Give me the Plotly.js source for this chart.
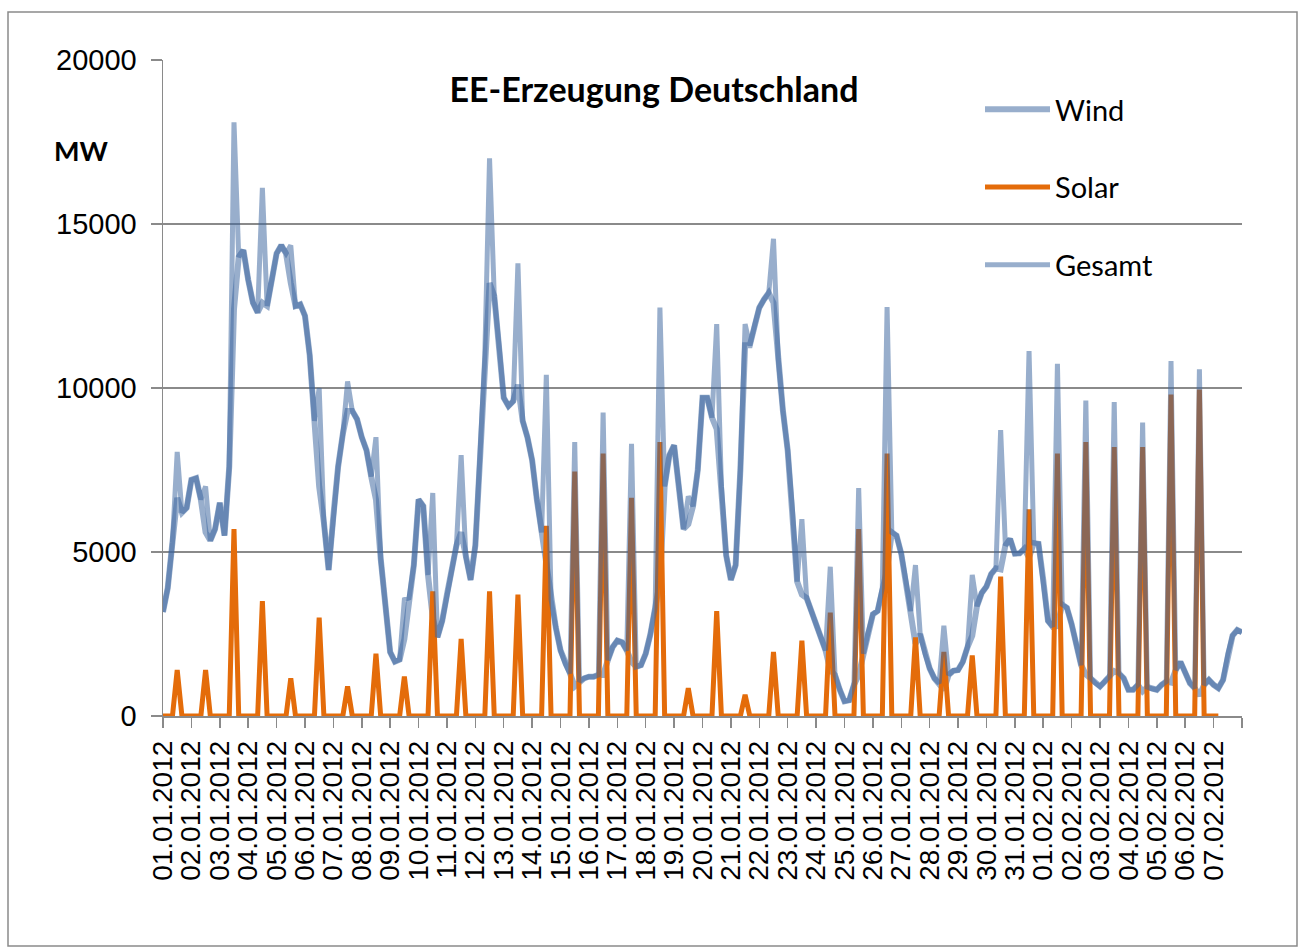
<!DOCTYPE html>
<html>
<head>
<meta charset="utf-8">
<script src="https://cdn.plot.ly/plotly-3.0.1.min.js"></script>
<style>
  html, body { margin: 0; padding: 0; background: #ffffff; }
  #chart { width: 1301px; height: 949px; }
</style>
</head>
<body>
<div id="chart"></div>
<script>
// Day labels (one tick per day, 01.01.2012 .. 07.02.2012)
const dayLabels = [
  "01.01.2012","02.01.2012","03.01.2012","04.01.2012","05.01.2012","06.01.2012","07.01.2012",
  "08.01.2012","09.01.2012","10.01.2012","11.01.2012","12.01.2012","13.01.2012","14.01.2012",
  "15.01.2012","16.01.2012","17.01.2012","18.01.2012","19.01.2012","20.01.2012","21.01.2012",
  "22.01.2012","23.01.2012","24.01.2012","25.01.2012","26.01.2012","27.01.2012","28.01.2012",
  "29.01.2012","30.01.2012","31.01.2012","01.02.2012","02.02.2012","03.02.2012","04.02.2012",
  "05.02.2012","06.02.2012","07.02.2012"
];

// Sampling step of the series (hours)
const stepHours = 4;

// Wind feed-in (MW), every 4 h starting 01.01.2012 00:00
const windMW = [
  3170, 3900, 5300, 6650, 6200, 6350,      // 01.01
  7200, 7250, 6600, 5600, 5350, 5700,      // 02.01
  6500, 5500, 7600, 12400, 14000, 14200,   // 03.01
  13300, 12600, 12300, 12600, 12500, 13300,// 04.01
  14100, 14350, 14100, 13200, 12500, 12550,// 05.01
  12200, 11000, 9000, 7000, 5900, 4450,    // 06.01
  6100, 7600, 8600, 9300, 9300, 9050,      // 07.01
  8500, 8100, 7300, 6600, 4800, 3200,      // 08.01
  1950, 1660, 1720, 2350, 3600, 4600,      // 09.01
  6600, 6400, 4300, 3000, 2400, 2900,      // 10.01
  3700, 4500, 5200, 5600, 4850, 4150,      // 11.01
  5200, 8000, 11000, 13200, 12800, 11300,  // 12.01
  9700, 9450, 9600, 10100, 9000, 8500,     // 13.01
  7800, 6600, 5600, 4600, 3550, 2700,      // 14.01
  2000, 1580, 1300, 900, 1050, 1150,       // 15.01
  1200, 1200, 1250, 1250, 1700, 2100,      // 16.01
  2300, 2250, 2000, 1650, 1500, 1550,      // 17.01
  1900, 2500, 3300, 4100, 7000, 7950,      // 18.01
  8250, 7000, 5700, 5850, 6400, 7500,      // 19.01
  9700, 9700, 9100, 8750, 7000, 4900,      // 20.01
  4150, 4600, 7500, 11300, 11300, 11900,   // 21.01
  12450, 12700, 12900, 12600, 10900, 9300, // 22.01
  8100, 6300, 4100, 3700, 3600, 3200,      // 23.01
  2800, 2450, 2000, 1400, 1250, 800,       // 24.01
  450, 480, 950, 1250, 1900, 2550,         // 25.01
  3100, 3200, 3900, 4470, 5600, 5500,      // 26.01
  4950, 4100, 3200, 2200, 2500, 1900,      // 27.01
  1450, 1150, 1000, 800, 1250, 1380,       // 28.01
  1400, 1650, 2100, 2450, 3350, 3750,      // 29.01
  3950, 4330, 4500, 4470, 5200, 5400,      // 30.01
  4950, 4960, 5100, 4830, 5270, 5250,      // 31.01
  4150, 2900, 2720, 2740, 3400, 3300,      // 01.02
  2800, 2100, 1550, 1270, 1150, 1000,      // 02.02
  900, 1050, 1200, 1370, 1300, 1150,       // 03.02
  800, 800, 950, 750, 880, 830,            // 04.02
  800, 950, 1050, 1020, 1400, 1650,        // 05.02
  1350, 1000, 850, 620, 950, 1100,         // 06.02
  950, 850, 1100, 1900, 2450, 2620,        // 07.02
  2550                                     // 08.02 00:00
];

// Solar feed-in daily midday peak (MW), 01.01 .. 06.02
const solarPeakMW = [
  1400, 1400, 5700, 3500, 1150, 3000, 900, 1900, 1200, 3800,
  2350, 3800, 3700, 5800, 7450, 8000, 6650, 8350, 850, 3200,
  650, 1950, 2300, 3150, 5700, 8000, 2400, 1950, 1850, 4250,
  6300, 8000, 8350, 8200, 8200, 9800, 9950
];

// ---- build series on the common time grid ----
const perDay = 24 / stepHours;
const t = windMW.map((_, i) => i * stepHours / 24);
// solar: zero at night, daily peak value at 12:00, series ends early on 07.02
const solarLen = solarPeakMW.length * perDay + 2;
const solarMW = [];
for (let i = 0; i < solarLen; i++) {
  const day = Math.floor(i / perDay), slot = i % perDay;
  solarMW.push(slot === 3 && day < solarPeakMW.length ? solarPeakMW[day] : 0);
}
const tSolar = t.slice(0, solarLen);
const gesamtMW = windMW.map((w, i) => w + (i < solarLen ? solarMW[i] : 0));

const blueA = 'rgba(58,100,158,0.52)';
const orange = '#E46C0A';
const gridCol = '#8a8a8a';

const traces = [
  { x: t, y: windMW, name: 'Wind', type: 'scatter', mode: 'lines',
    line: { color: blueA, width: 6 }, legendgroup: 'g1' },
  { x: tSolar, y: solarMW, name: 'Solar', type: 'scatter', mode: 'lines',
    line: { color: orange, width: 5 }, legendgroup: 'g2' },
  { x: t, y: gesamtMW, name: 'Gesamt', type: 'scatter', mode: 'lines',
    line: { color: blueA, width: 5 }, legendgroup: 'g3' }
];

const tickvals = dayLabels.map((_, i) => i).concat([dayLabels.length]);
const ticktext = dayLabels.concat(['']);

const layout = {
  width: 1301, height: 949,
  paper_bgcolor: '#ffffff', plot_bgcolor: '#ffffff',
  margin: { l: 163, r: 59, t: 60, b: 233 },
  showlegend: true,
  title: {
    text: '<b>EE-Erzeugung Deutschland</b>',
    font: { family: 'Lato, "Open Sans", sans-serif', size: 34, color: '#000000' },
    xref: 'container', yref: 'container',
    x: 654 / 1301, xanchor: 'center',
    y: 1 - 90 / 949, yanchor: 'middle'
  },
  xaxis: {
    type: 'linear', range: [0, 38],
    tickmode: 'array', tickvals: tickvals, ticktext: ticktext,
    tickangle: -90,
    ticks: 'outside', ticklen: 10, tickcolor: gridCol, tickwidth: 1.5,
    showline: true, linecolor: gridCol, linewidth: 1.5,
    showgrid: false, zeroline: false,
    tickfont: { family: '"Liberation Sans", Arial, sans-serif', size: 28, color: '#000000' },
    ticklabelstandoff: 2,
    fixedrange: true
  },
  yaxis: {
    range: [0, 20000],
    tickmode: 'array', tickvals: [0, 5000, 10000, 15000, 20000],
    ticktext: ['0', '5000', '10000', '15000', '20000'],
    ticks: 'outside', ticklen: 11, tickcolor: gridCol, tickwidth: 1.5,
    showline: true, linecolor: gridCol, linewidth: 1.5,
    showgrid: true, gridcolor: gridCol, gridwidth: 1.5,
    zeroline: false,
    tickfont: { family: '"Liberation Sans", Arial, sans-serif', size: 29, color: '#000000' },
    ticklabelstandoff: 8,
    fixedrange: true
  },
  legend: {
    x: (980 - 163) / 1079, y: (716 - 84) / 656,
    xanchor: 'left', yanchor: 'top',
    font: { family: 'Lato, "Open Sans", sans-serif', size: 29, color: '#000000' },
    bgcolor: 'rgba(255,255,255,0)',
    tracegroupgap: 37,
    itemwidth: 65,
    traceorder: 'grouped'
  },
  annotations: [
    { text: '<b>MW</b>', xref: 'paper', yref: 'paper',
      x: (81 - 163) / 1079, y: (716 - 150) / 656,
      xanchor: 'center', yanchor: 'middle', showarrow: false,
      font: { family: 'Lato, "Open Sans", sans-serif', size: 27, color: '#000000' } }
  ],
  shapes: [
    { type: 'rect', xref: 'paper', yref: 'paper',
      x0: (8 - 163) / 1079, x1: (1297 - 163) / 1079,
      y0: (716 - 946) / 656, y1: (716 - 12) / 656,
      line: { color: '#8a8a8a', width: 1.5 }, fillcolor: 'rgba(0,0,0,0)', layer: 'below' }
  ]
};

Plotly.newPlot('chart', traces, layout, { displayModeBar: false, staticPlot: true });
</script>
</body>
</html>
